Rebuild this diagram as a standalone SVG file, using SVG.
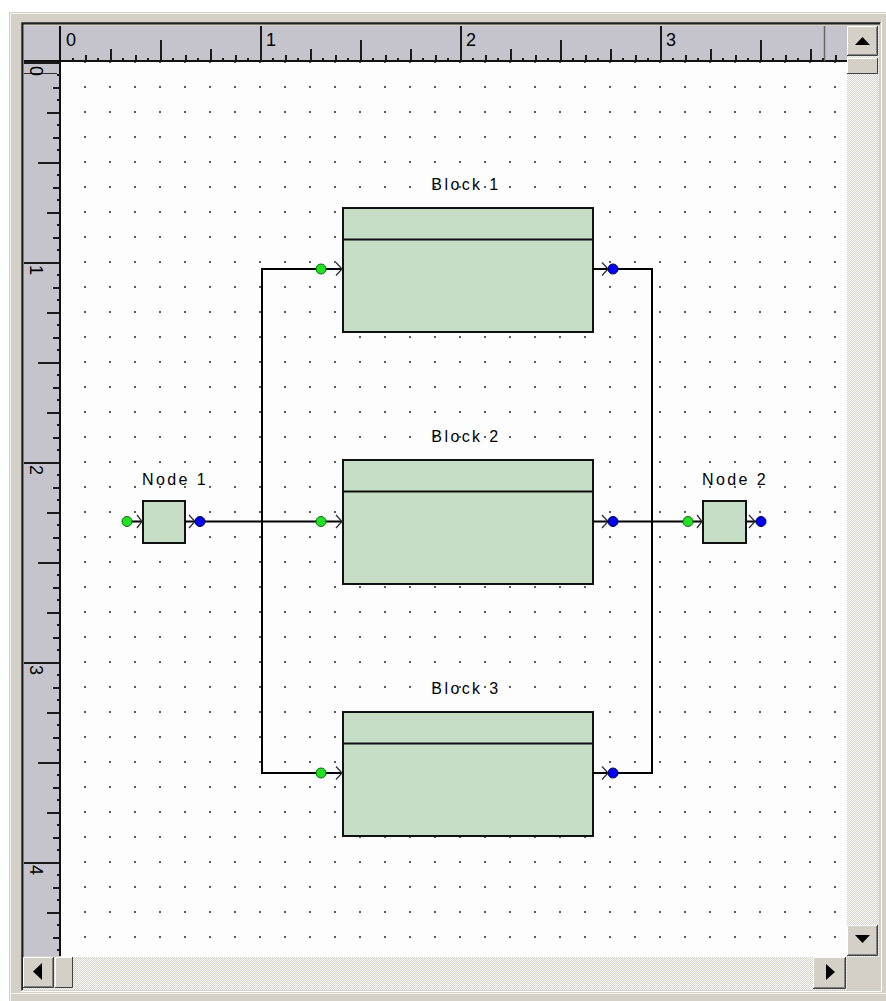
<svg xmlns="http://www.w3.org/2000/svg" width="886" height="1001" viewBox="0 0 886 1001">
<defs>
<style>
.lbl{font-family:"Liberation Sans",Arial,sans-serif;font-size:16px;fill:#000;letter-spacing:2.4px}
.rtxt{font-family:"Liberation Sans",Arial,sans-serif;font-size:18px;fill:#000}
.blk{fill:#c6dec6;stroke:#111;stroke-width:2}
.div{stroke:#111;stroke-width:2}
.stub{stroke:#000;stroke-width:2;fill:none}
.chev{stroke:#333;stroke-width:1.3;fill:none}
.pin{fill:#22e022;stroke:#0a6a0a;stroke-width:1}
.pout{fill:#0000f0;stroke:#000050;stroke-width:1}
.conn{stroke:#000;stroke-width:2;fill:none}
.btn{fill:#d4d0c8}
.hl{stroke:#fff;stroke-width:1;fill:none}
.sh{stroke:#404040;stroke-width:1;fill:none}
.sh2{stroke:#808080;stroke-width:1;fill:none}
.tick{stroke:#1a1a1a;stroke-width:2}
</style>
<pattern id="grid" patternUnits="userSpaceOnUse" x="84" y="86" width="25" height="25">
<rect x="0" y="0" width="2" height="2" fill="#5a5a5a"/>
</pattern>
<pattern id="checker" patternUnits="userSpaceOnUse" x="0" y="0" width="2" height="2">
<rect width="2" height="2" fill="#d4d0c8"/>
<rect width="1" height="1" fill="#ffffff"/>
<rect x="1" y="1" width="1" height="1" fill="#ffffff"/>
</pattern>
<pattern id="hr" patternUnits="userSpaceOnUse" x="60" y="26" width="200" height="36">
<rect x="0" y="0" width="2" height="36" fill="#1a1a1a"/>
<path class="tick" d="M13 35v-3M26 35v-6M38 35v-3M51 35v-12M63 35v-3M76 35v-6M88 35v-3M101 35v-21M113 35v-3M126 35v-6M138 35v-3M151 35v-12M163 35v-3M176 35v-6M188 35v-3"/>
</pattern>
<pattern id="vr" patternUnits="userSpaceOnUse" x="24" y="62" width="37" height="200">
<rect x="0" y="0" width="37" height="2" fill="#1a1a1a"/>
<path class="tick" d="M36 13h-3M36 26h-7M36 38h-3M36 51h-13M36 63h-3M36 76h-7M36 88h-3M36 101h-22M36 113h-3M36 126h-7M36 138h-3M36 151h-13M36 163h-3M36 176h-7M36 188h-3"/>
</pattern>
</defs>

<!-- window background -->
<rect x="0" y="0" width="886" height="1001" fill="#ffffff"/>
<rect x="9" y="12" width="877" height="989" fill="#d4d0c8"/>
<path d="M10.5 1001V13.5H886" stroke="#f4f3ee" stroke-width="1" fill="none"/>
<path d="M10 993.5H886" stroke="#f4f3ee" stroke-width="1"/>

<!-- sunken frame -->
<path d="M21.5 991V22.5H881" stroke="#808080" stroke-width="1" fill="none"/>
<path d="M22.5 990V23.5H880" stroke="#202020" stroke-width="2" fill="none"/>
<path d="M21 991.5H881.5V22" stroke="#ffffff" stroke-width="1" fill="none"/>

<!-- rulers -->
<g id="rulers">
<rect x="24" y="26" width="823" height="35" fill="#c5c4cc"/>
<rect x="24" y="26" width="37" height="930" fill="#c5c4cc"/>
<rect x="62" y="26" width="785" height="35" fill="url(#hr)"/>
<rect x="24" y="62" width="37" height="894" fill="url(#vr)"/>
<rect x="24" y="60" width="823" height="2" fill="#111"/>
<rect x="59" y="26" width="2" height="930" fill="#111"/>
<line x1="824.5" y1="26" x2="824.5" y2="61" stroke="#666" stroke-width="1.5"/>
<line x1="24" y1="73.5" x2="57" y2="73.5" stroke="#333" stroke-width="1.2"/>
<text class="rtxt" x="66" y="46">0</text>
<text class="rtxt" x="266" y="46">1</text>
<text class="rtxt" x="466" y="46">2</text>
<text class="rtxt" x="666" y="46">3</text>
<text class="rtxt" transform="translate(30,66) rotate(90)">0</text>
<text class="rtxt" transform="translate(30,265) rotate(90)">1</text>
<text class="rtxt" transform="translate(30,465) rotate(90)">2</text>
<text class="rtxt" transform="translate(30,665) rotate(90)">3</text>
<text class="rtxt" transform="translate(30,865) rotate(90)">4</text>
</g>

<!-- canvas -->
<rect x="61" y="62" width="786" height="895" fill="#fdfdfd"/>
<rect x="61" y="62" width="786" height="895" fill="url(#grid)"/>

<!-- scrollbars -->
<g id="scrollbars">
<rect x="847" y="26" width="32" height="931" fill="url(#checker)"/>
<rect x="23" y="957" width="824" height="33" fill="url(#checker)"/>
<rect x="847" y="957" width="32" height="33" fill="#d4d0c8"/>
<rect class="btn" x="847" y="26" width="31" height="30"/>
<path class="hl" d="M847.5 55V26.5H877"/>
<path class="sh" d="M847 55.5H877.5V26"/>
<path class="sh2" d="M848 54.5H876.5V27"/>
<polygon points="862.5,37 855,45 870,45" fill="#000"/>
<rect class="btn" x="847" y="58" width="31" height="16"/>
<path class="hl" d="M847.5 73V58.5H877"/>
<path class="sh" d="M847 73.5H877.5V58"/>
<rect class="btn" x="847" y="925" width="31" height="31"/>
<path class="hl" d="M847.5 955V925.5H877"/>
<path class="sh" d="M847 955.5H877.5V925"/>
<path class="sh2" d="M848 954.5H876.5V926"/>
<polygon points="855,935 870,935 862.5,943" fill="#000"/>
<rect class="btn" x="23" y="957" width="31" height="31"/>
<path class="hl" d="M23.5 987V957.5H53"/>
<path class="sh" d="M23 987.5H53.5V957"/>
<path class="sh2" d="M24 986.5H52.5V958"/>
<polygon points="33,971.5 42,963 42,980" fill="#000"/>
<rect class="btn" x="55" y="957" width="18" height="31"/>
<path class="hl" d="M55.5 987V957.5H72"/>
<path class="sh" d="M55 987.5H72.5V957"/>
<rect class="btn" x="813" y="957" width="33" height="32"/>
<path class="hl" d="M813.5 988V957.5H845"/>
<path class="sh" d="M813 988.5H845.5V957"/>
<path class="sh2" d="M814 987.5H844.5V958"/>
<polygon points="826,964 835,972 826,980" fill="#000"/>
</g>

<!-- connectors -->
<g id="connectors">
<path class="conn" d="M200 521.5H321"/>
<path class="conn" d="M321 269H262V773H321"/>
<path class="conn" d="M613 269H652V773H613"/>
<path class="conn" d="M613 521.5H688"/>
</g>

<!-- Block 1 -->
<g id="block1">
<text class="lbl" x="466" y="190" text-anchor="middle">Block 1</text>
<rect class="blk" x="343" y="208" width="250" height="124"/>
<line class="div" x1="343" y1="239.5" x2="593" y2="239.5"/>
<path class="stub" d="M321 269H343M593 269H613"/>
<polyline class="chev" points="336,262.5 342,269 336,275.5"/>
<polyline class="chev" points="602,262.5 608,269 602,275.5"/>
<circle class="pin" cx="321" cy="269" r="5"/>
<circle class="pout" cx="613" cy="269" r="5"/>
</g>

<!-- Block 2 -->
<g id="block2">
<text class="lbl" x="466" y="442" text-anchor="middle">Block 2</text>
<rect class="blk" x="343" y="460" width="250" height="124"/>
<line class="div" x1="343" y1="491.5" x2="593" y2="491.5"/>
<path class="stub" d="M321 521.5H343M593 521.5H613"/>
<polyline class="chev" points="336,515 342,521.5 336,528"/>
<polyline class="chev" points="602,515 608,521.5 602,528"/>
<circle class="pin" cx="321" cy="521.5" r="5"/>
<circle class="pout" cx="613" cy="521.5" r="5"/>
</g>

<!-- Block 3 -->
<g id="block3">
<text class="lbl" x="466" y="694" text-anchor="middle">Block 3</text>
<rect class="blk" x="343" y="712" width="250" height="124"/>
<line class="div" x1="343" y1="743.5" x2="593" y2="743.5"/>
<path class="stub" d="M321 773H343M593 773H613"/>
<polyline class="chev" points="336,766.5 342,773 336,779.5"/>
<polyline class="chev" points="602,766.5 608,773 602,779.5"/>
<circle class="pin" cx="321" cy="773" r="5"/>
<circle class="pout" cx="613" cy="773" r="5"/>
</g>

<!-- Node 1 -->
<g id="node1">
<text class="lbl" x="175" y="485" text-anchor="middle">Node 1</text>
<rect class="blk" x="143" y="501" width="42" height="42"/>
<path class="stub" d="M127 521.5H143M185 521.5H200"/>
<polyline class="chev" points="137,515 142,521.5 137,528"/>
<polyline class="chev" points="189,515 195,521.5 189,528"/>
<circle class="pin" cx="127" cy="521.5" r="5"/>
<circle class="pout" cx="200" cy="521.5" r="5"/>
</g>

<!-- Node 2 -->
<g id="node2">
<text class="lbl" x="735" y="485" text-anchor="middle">Node 2</text>
<rect class="blk" x="703" y="501" width="43" height="42"/>
<path class="stub" d="M688 521.5H703M746 521.5H761"/>
<polyline class="chev" points="697,515 702,521.5 697,528"/>
<polyline class="chev" points="749,515 755,521.5 749,528"/>
<circle class="pin" cx="688" cy="521.5" r="5"/>
<circle class="pout" cx="761" cy="521.5" r="5"/>
</g>
</svg>
